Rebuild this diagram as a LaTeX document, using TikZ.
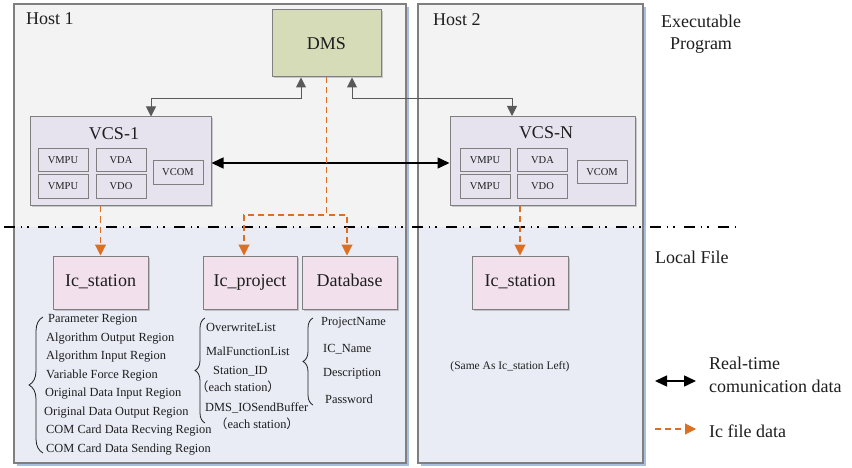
\documentclass[tikz,border=0pt]{standalone}
\usepackage{fontspec}
\setmainfont{Liberation Serif}
\newfontfamily\cjk{Noto Sans CJK SC}
\usetikzlibrary{arrows.meta,decorations.pathreplacing,shadows}

\definecolor{hostgray}{HTML}{F3F3F3}
\definecolor{hostblue}{HTML}{E9ECF5}
\definecolor{hostshadow}{HTML}{A9BFDD}
\definecolor{edgegray}{HTML}{7F7F7F}
\definecolor{dmsgreen}{HTML}{D5DCB7}
\definecolor{vcsfill}{HTML}{E6E3EF}
\definecolor{filepink}{HTML}{F2E1EC}
\definecolor{linkgray}{HTML}{595959}
\definecolor{fileorange}{HTML}{DC6F22}
\definecolor{inkdark}{HTML}{1E1E1E}

\tikzset{
  bigtext/.style={font=\fontsize{18}{22}\selectfont, text=inkdark},
  smalltext/.style={font=\fontsize{10.5}{12}\selectfont, text=inkdark},
  listtext/.style={font=\fontsize{12.4}{14}\selectfont, text=inkdark, anchor=west, inner sep=0pt},
  box/.style={draw=edgegray, line width=1pt, inner sep=0pt, align=center,
    drop shadow={shadow xshift=1.5pt, shadow yshift=-1.5pt, fill=black, opacity=0.18}},
  dmsbox/.style={box, fill=dmsgreen, minimum width=109pt, minimum height=67pt, bigtext},
  vcsbox/.style={box, fill=vcsfill, minimum height=89pt},
  unitbox/.style={draw=edgegray, line width=0.9pt, fill=vcsfill, minimum width=50pt, minimum height=23.5pt, inner sep=0pt, smalltext},
  filebox/.style={box, fill=filepink, minimum height=53pt, bigtext, text height=12.5pt, text depth=4pt},
  hostframe/.style={draw=edgegray, line width=1.2pt},
  graylink/.style={draw=linkgray, line width=1pt, {Triangle[length=10pt,width=10pt]}-{Triangle[length=10pt,width=10pt]}},
  rtlink/.style={draw=black, line width=1.5pt, {Triangle[length=12pt,width=11pt]}-{Triangle[length=12pt,width=11pt]}},
  filelink/.style={draw=fileorange, line width=1.1pt, dash pattern=on 6pt off 4pt, -{Triangle[length=11pt,width=11pt]}},
  bracestyle/.style={draw=inkdark, line width=0.8pt, decorate},
  divider/.style={draw=black, line width=1.5pt, dash pattern=on 10.5pt off 6pt on 1.5pt off 5pt on 1.5pt off 9.5pt}
}

\begin{document}
\begin{tikzpicture}[x=1pt, y=-1pt]
  % page
  \fill[white] (0,0) rectangle (852,468);
  \useasboundingbox (0,0) rectangle (852,468);

  % host frames: upper zone (executables) and lower zone (local files)
  \foreach \xa/\xb in {14/406, 418/643} {
    \fill[hostshadow] (\xa+3,7) rectangle (\xb+3,466);
    \fill[hostgray] (\xa,4) rectangle (\xb,227);
    \fill[hostblue] (\xa,227) rectangle (\xb,463);
    \draw[hostframe] (\xa,4) rectangle (\xb,463);
  }
  \node[bigtext, anchor=west, inner sep=0pt] (host1) at (26,19) {Host 1};
  \node[bigtext, anchor=west, inner sep=0pt] (host2) at (433,20) {Host 2};

  % zone divider
  \coordinate (divL) at (4,227);
  \coordinate (divR) at (736,227);
  \draw[divider] (divL) -- (divR);

  \node[bigtext, align=center, inner sep=0pt] (exe) at (701,34) {Executable\\Program};
  \node[bigtext, anchor=west, inner sep=0pt] (localfile) at (655,257) {Local File};

  % DMS
  \node[dmsbox] (dms) at (326.5,43.5) {DMS};

  % VCS-1
  \node[vcsbox, minimum width=181pt] (vcs1) at (120.5,161.5) {};
  \node[bigtext, inner sep=0pt] (vcs1t) at (114,134) {VCS-1};
  \node[unitbox] (v1a) at (63,160) {VMPU};
  \node[unitbox] (v1b) at (63,186.5) {VMPU};
  \node[unitbox] (v1c) at (121,160) {VDA};
  \node[unitbox] (v1d) at (121,186.5) {VDO};
  \node[unitbox] (v1e) at (178,172.5) {VCOM};

  % VCS-N
  \node[vcsbox, minimum width=185pt] (vcsn) at (542.5,161) {};
  \node[bigtext, inner sep=0pt] (vcsnt) at (546,133) {VCS-N};
  \node[unitbox] (vna) at (485,160) {VMPU};
  \node[unitbox] (vnb) at (485,186.5) {VMPU};
  \node[unitbox] (vnc) at (542.5,160) {VDA};
  \node[unitbox] (vnd) at (542.5,186.5) {VDO};
  \node[unitbox] (vne) at (602,172) {VCOM};

  % local files
  \node[filebox, minimum width=95pt] (ics1) at (100.5,282.5) {Ic\_station};
  \node[filebox, minimum width=94pt] (icp) at (250,282.5) {Ic\_project};
  \node[filebox, minimum width=95pt] (db) at (349.5,282.5) {Database};
  \node[filebox, minimum width=96pt] (ics2) at (520,282.5) {Ic\_station};

  % Ic_station contents
  \draw[bracestyle, decoration={brace, amplitude=14pt}] (43,453) -- (43,317);
  \node[listtext] (s1) at (48,320) {Parameter Region};
  \node[listtext] (s2) at (46,338.5) {Algorithm Output Region};
  \node[listtext] (s3) at (46,357) {Algorithm Input Region};
  \node[listtext] (s4) at (46,376) {Variable Force Region};
  \node[listtext] (s5) at (45,394) {Original Data Input Region};
  \node[listtext] (s6) at (44,412.5) {Original Data Output Region};
  \node[listtext] (s7) at (46,431) {COM Card Data Recving Region};
  \node[listtext] (s8) at (46,449.5) {COM Card Data Sending Region};

  % Ic_project contents
  \draw[bracestyle, decoration={brace, amplitude=10pt}] (205,423) -- (205,318);
  \node[listtext] (p1) at (206,327.5) {OverwriteList};
  \node[listtext] (p2) at (206,351) {MalFunctionList};
  \node[listtext] (p3) at (213,371) {Station\_ID};
  \node[listtext] (p4) at (196,387) {{\cjk （}each station{\cjk ）}};
  \node[listtext] (p5) at (205,408) {DMS\_IOSendBuffer};
  \node[listtext] (p6) at (215,424) {{\cjk （}each station{\cjk ）}};

  % Database contents
  \draw[bracestyle, decoration={brace, amplitude=10pt}] (313,405) -- (313,318);
  \node[listtext] (d1) at (321,323) {ProjectName};
  \node[listtext] (d2) at (323,349) {IC\_Name};
  \node[listtext] (d3) at (323,374) {Description};
  \node[listtext] (d4) at (325,399.5) {Password};

  \node[font=\fontsize{11.5}{13}\selectfont, text=inkdark, inner sep=0pt] (same) at (510,367) {(Same As Ic\_station Left)};

  % DMS <-> VCS control links
  \draw[graylink] (301,0 |- dms.south) |- (151,99) -- (151,0 |- vcs1.north);
  \draw[graylink] (352,0 |- dms.south) |- (512,99) -- (512,0 |- vcsn.north);

  % real-time link between stations
  \draw[rtlink] (vcs1.east |- 0,163) -- (vcsn.west |- 0,163);

  % Ic file data
  \draw[filelink] (dms.south) |- (244,215) -- (244,0 |- icp.north);
  \draw[filelink] (dms.south) |- (347,215) -- (347,0 |- db.north);
  \draw[filelink] (ics1.north |- vcs1.south) -- (ics1.north);
  \draw[filelink] (ics2.north |- vcsn.south) -- (ics2.north);

  % legend
  \coordinate (lgA1) at (655,381);
  \coordinate (lgA2) at (696,381);
  \draw[rtlink] (lgA1) -- (lgA2);
  \node[bigtext, anchor=west, inner sep=0pt] (lgT1) at (709,363) {Real-time};
  \node[bigtext, anchor=west, inner sep=0pt] (lgT2) at (709,386) {comunication data};
  \coordinate (lgB1) at (655,429);
  \coordinate (lgB2) at (696,429);
  \draw[filelink] (lgB1) -- (lgB2);
  \node[bigtext, anchor=west, inner sep=0pt] (lgT3) at (709,431) {Ic file data};
\end{tikzpicture}
\end{document}
